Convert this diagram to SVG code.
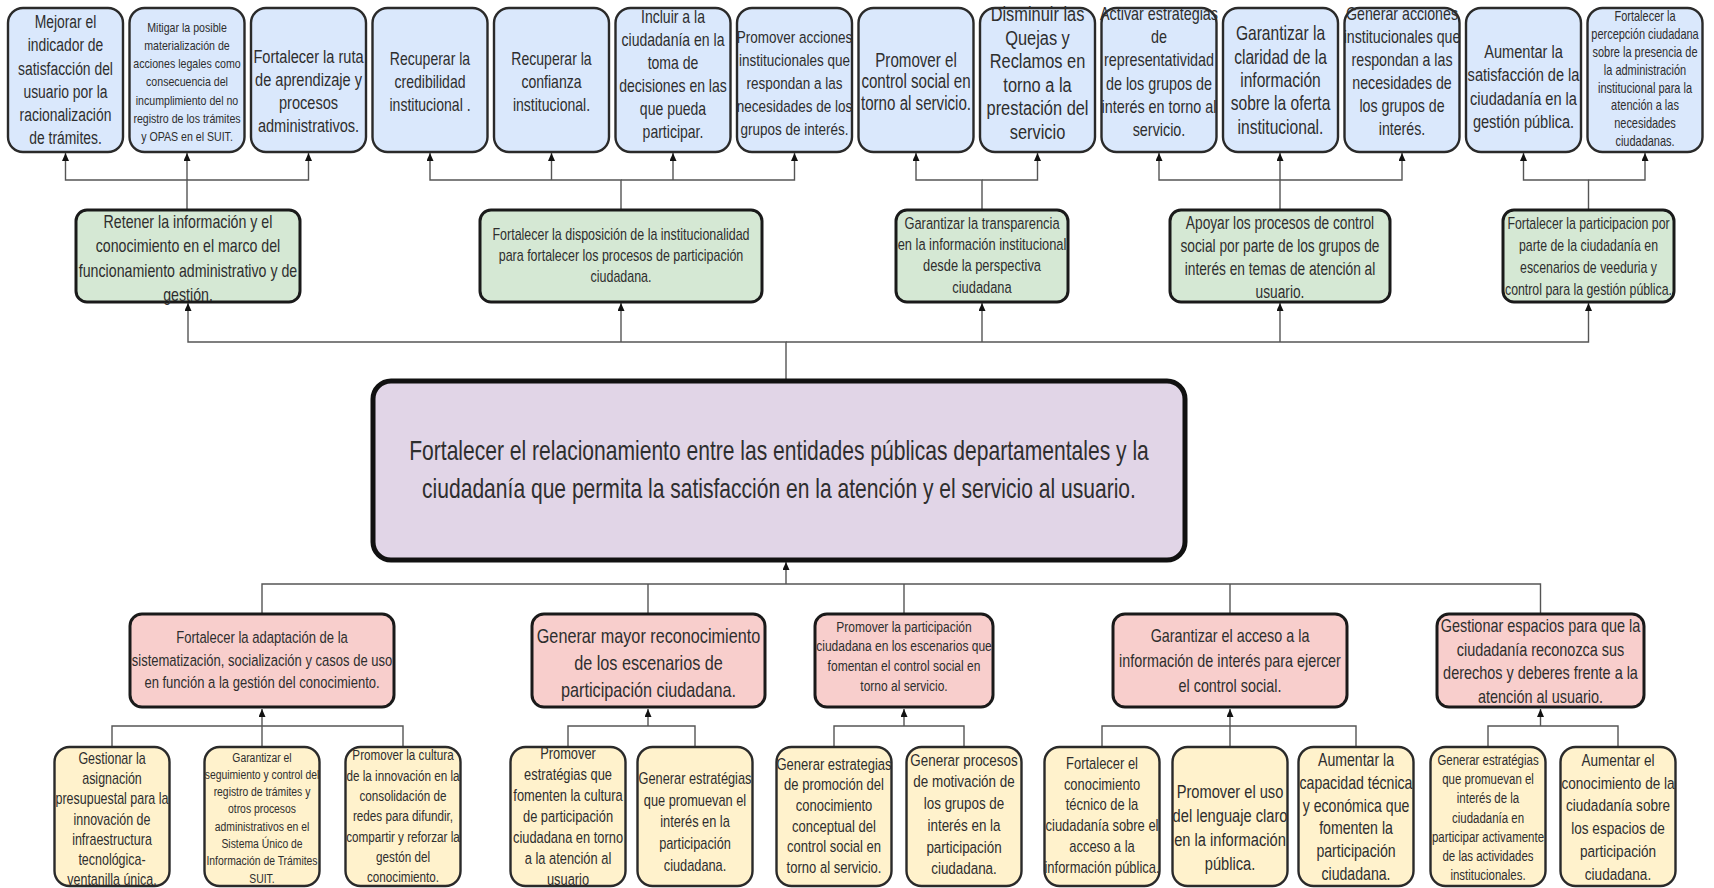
<svg xmlns="http://www.w3.org/2000/svg" width="1714" height="888" viewBox="0 0 1714 888">
<defs>
<style>
.bl{fill:#dae8fc;stroke:#2a2a2a;stroke-width:2.4}
.gr{fill:#d5e8d4;stroke:#1a1a1a;stroke-width:3}
.pu{fill:#e1d5e7;stroke:#111;stroke-width:5}
.rd{fill:#f8cecc;stroke:#1a1a1a;stroke-width:3}
.ye{fill:#fff2cc;stroke:#2a2a2a;stroke-width:2.4}
text{font-family:"Liberation Sans",Arial,sans-serif;fill:#2e2e2e;text-anchor:middle}
.cn path{fill:none;stroke:#555;stroke-width:1.4}
.ar{marker-end:url(#ah)}
</style>
<marker id="ah" viewBox="0 0 8 7" refX="8" refY="3.5" markerWidth="8" markerHeight="7" orient="auto" markerUnits="userSpaceOnUse"><path d="M0 0 L8 3.5 L0 7 z" fill="#111" stroke="none"/></marker>
</defs>
<rect width="1714" height="888" fill="#fff"/>

<g class="cn" id="connectors">
<path class="ar" d="M187 210 V180 H65.5 V153"/>
<path class="ar" d="M187 180 V153"/>
<path class="ar" d="M187 180 H308.5 V153"/>
<path class="ar" d="M621 210 V180 H430 V153"/>
<path class="ar" d="M551.5 180 V153"/>
<path class="ar" d="M621 180 H794.5 V153"/>
<path class="ar" d="M673 180 V153"/>
<path class="ar" d="M982 210 V180 H916 V153"/>
<path class="ar" d="M982 180 H1037.5 V153"/>
<path class="ar" d="M1280 210 V180 H1159 V153"/>
<path class="ar" d="M1280 180 V153"/>
<path class="ar" d="M1280 180 H1402 V153"/>
<path class="ar" d="M1588.5 210 V180 H1523.5 V153"/>
<path class="ar" d="M1588.5 180 H1645 V153"/>
<path class="ar" d="M786 381 V342 H188 V303"/>
<path class="ar" d="M621 342 V303"/>
<path class="ar" d="M786 342 H1588.5 V303"/>
<path class="ar" d="M982 342 V303"/>
<path class="ar" d="M1280 342 V303"/>
<path class="ar" d="M786 584 V562"/>
<path d="M786 584 H262 V614"/>
<path d="M648 584 V614"/>
<path d="M786 584 H1540.5 V614"/>
<path d="M904 584 V614"/>
<path d="M1230 584 V614"/>
<path class="ar" d="M262 747 V709"/>
<path d="M112 747 V726 H403 V747"/>
<path d="M568 747 V726 H695 V747"/>
<path class="ar" d="M648 726 V709"/>
<path d="M834 747 V726 H964 V747"/>
<path class="ar" d="M904 726 V709"/>
<path d="M1102 747 V726 H1356 V747"/>
<path class="ar" d="M1230 747 V709"/>
<path d="M1488 747 V726 H1618 V747"/>
<path class="ar" d="M1540.5 726 V709"/>
</g>

<g id="b1"><rect class="bl" x="8" y="8" width="115" height="144" rx="15"/>
<text font-size="17.8" transform="translate(65.5 0) scale(0.78 1)"><tspan x="0" y="28">Mejorar el</tspan><tspan x="0" y="51.3">indicador de</tspan><tspan x="0" y="74.6">satisfacción del</tspan><tspan x="0" y="97.9">usuario por la</tspan><tspan x="0" y="121.2">racionalización</tspan><tspan x="0" y="144.5">de trámites.</tspan></text></g>

<g id="b2"><rect class="bl" x="129.5" y="8" width="115" height="144" rx="15"/>
<text font-size="13.6" transform="translate(187 0) scale(0.78 1)"><tspan x="0" y="31.6">Mitigar la posible</tspan><tspan x="0" y="49.9">materialización de</tspan><tspan x="0" y="68.2">acciones legales como</tspan><tspan x="0" y="86.5">consecuencia del</tspan><tspan x="0" y="104.8">incumplimiento del no</tspan><tspan x="0" y="123.1">registro de los trámites</tspan><tspan x="0" y="141.4">y OPAS en el SUIT.</tspan></text></g>

<g id="b3"><rect class="bl" x="251" y="8" width="115" height="144" rx="15"/>
<text font-size="18.7" transform="translate(308.5 0) scale(0.78 1)"><tspan x="0" y="62.6">Fortalecer la ruta</tspan><tspan x="0" y="85.9">de aprendizaje y</tspan><tspan x="0" y="109.2">procesos</tspan><tspan x="0" y="132.5">administrativos.</tspan></text></g>

<g id="b4"><rect class="bl" x="372.5" y="8" width="115" height="144" rx="15"/>
<text font-size="18" transform="translate(430 0) scale(0.78 1)"><tspan x="0" y="64.7">Recuperar la</tspan><tspan x="0" y="88">credibilidad</tspan><tspan x="0" y="111.3">institucional .</tspan></text></g>

<g id="b5"><rect class="bl" x="494" y="8" width="115" height="144" rx="15"/>
<text font-size="18" transform="translate(551.5 0) scale(0.78 1)"><tspan x="0" y="64.7">Recuperar la</tspan><tspan x="0" y="88">confianza</tspan><tspan x="0" y="111.3">institucional.</tspan></text></g>

<g id="b6"><rect class="bl" x="615.5" y="8" width="115" height="144" rx="15"/>
<text font-size="18" transform="translate(673 0) scale(0.78 1)"><tspan x="0" y="22.8">Incluir a la</tspan><tspan x="0" y="45.8">ciudadanía en la</tspan><tspan x="0" y="68.8">toma de</tspan><tspan x="0" y="91.8">decisiones en las</tspan><tspan x="0" y="114.8">que pueda</tspan><tspan x="0" y="137.8">participar.</tspan></text></g>

<g id="b7"><rect class="bl" x="737" y="8" width="115" height="144" rx="15"/>
<text font-size="17.3" transform="translate(794.5 0) scale(0.78 1)"><tspan x="0" y="42.6">Promover acciones</tspan><tspan x="0" y="65.6">institucionales que</tspan><tspan x="0" y="88.6">respondan a las</tspan><tspan x="0" y="111.6">necesidades de los</tspan><tspan x="0" y="134.6">grupos de interés.</tspan></text></g>

<g id="b8"><rect class="bl" x="858.5" y="8" width="115" height="144" rx="15"/>
<text font-size="19.4" transform="translate(916 0) scale(0.78 1)"><tspan x="0" y="66.8">Promover el</tspan><tspan x="0" y="88.5">control social en</tspan><tspan x="0" y="110.2">torno al servicio.</tspan></text></g>

<g id="b9"><rect class="bl" x="980" y="8" width="115" height="144" rx="15"/>
<text font-size="21" transform="translate(1037.5 0) scale(0.78 1)"><tspan x="0" y="21.1">Disminuir las</tspan><tspan x="0" y="44.6">Quejas y</tspan><tspan x="0" y="68.1">Reclamos en</tspan><tspan x="0" y="91.6">torno a la</tspan><tspan x="0" y="115.1">prestación del</tspan><tspan x="0" y="138.6">servicio</tspan></text></g>

<g id="b10"><rect class="bl" x="1101.5" y="8" width="115" height="144" rx="15"/>
<text font-size="18.4" transform="translate(1159 0) scale(0.78 1)"><tspan x="0" y="19.9">Activar estrategias</tspan><tspan x="0" y="43.2">de</tspan><tspan x="0" y="66.5">representatividad</tspan><tspan x="0" y="89.8">de los grupos de</tspan><tspan x="0" y="113.1">interés en torno al</tspan><tspan x="0" y="136.4">servicio.</tspan></text></g>

<g id="b11"><rect class="bl" x="1223" y="8" width="115" height="144" rx="15"/>
<text font-size="20" transform="translate(1280.5 0) scale(0.78 1)"><tspan x="0" y="40.4">Garantizar la</tspan><tspan x="0" y="63.7">claridad de la</tspan><tspan x="0" y="87">información</tspan><tspan x="0" y="110.3">sobre la oferta</tspan><tspan x="0" y="133.6">institucional.</tspan></text></g>

<g id="b12"><rect class="bl" x="1344.5" y="8" width="115" height="144" rx="15"/>
<text font-size="18.2" transform="translate(1402 0) scale(0.78 1)"><tspan x="0" y="19.9">Generar acciones</tspan><tspan x="0" y="42.9">institucionales que</tspan><tspan x="0" y="65.9">respondan a las</tspan><tspan x="0" y="88.9">necesidades de</tspan><tspan x="0" y="111.9">los grupos de</tspan><tspan x="0" y="134.9">interés.</tspan></text></g>

<g id="b13"><rect class="bl" x="1466" y="8" width="115" height="144" rx="15"/>
<text font-size="18.7" transform="translate(1523.5 0) scale(0.78 1)"><tspan x="0" y="58.1">Aumentar la</tspan><tspan x="0" y="81.4">satisfacción de la</tspan><tspan x="0" y="104.7">ciudadanía en la</tspan><tspan x="0" y="128">gestión pública.</tspan></text></g>

<g id="b14"><rect class="bl" x="1587.5" y="8" width="115" height="144" rx="15"/>
<text font-size="14.1" transform="translate(1645 0) scale(0.78 1)"><tspan x="0" y="21.4">Fortalecer la</tspan><tspan x="0" y="39.2">percepción ciudadana</tspan><tspan x="0" y="57">sobre la presencia de</tspan><tspan x="0" y="74.8">la administración</tspan><tspan x="0" y="92.6">institucional  para la</tspan><tspan x="0" y="110.4">atención a las</tspan><tspan x="0" y="128.2">necesidades</tspan><tspan x="0" y="146">ciudadanas.</tspan></text></g>

<g id="g1"><rect class="gr" x="76" y="210" width="224" height="92" rx="11"/>
<text font-size="18.2" transform="translate(188 0) scale(0.78 1)"><tspan x="0" y="227.8">Retener la información y el</tspan><tspan x="0" y="252.2">conocimiento en el marco del</tspan><tspan x="0" y="276.6">funcionamiento administrativo y de</tspan><tspan x="0" y="301">gestión.</tspan></text></g>

<g id="g2"><rect class="gr" x="480" y="210" width="282" height="92" rx="11"/>
<text font-size="16" transform="translate(621 0) scale(0.78 1)"><tspan x="0" y="240.4">Fortalecer la disposición de la institucionalidad</tspan><tspan x="0" y="261.2">para fortalecer los procesos de participación</tspan><tspan x="0" y="282">ciudadana.</tspan></text></g>

<g id="g3"><rect class="gr" x="896" y="210" width="172" height="92" rx="11"/>
<text font-size="16.5" transform="translate(982 0) scale(0.78 1)"><tspan x="0" y="229">Garantizar la transparencia</tspan><tspan x="0" y="250.2">en la información institucional</tspan><tspan x="0" y="271.4">desde la perspectiva</tspan><tspan x="0" y="292.6">ciudadana</tspan></text></g>

<g id="g4"><rect class="gr" x="1170" y="210" width="220" height="92" rx="11"/>
<text font-size="17.6" transform="translate(1280 0) scale(0.78 1)"><tspan x="0" y="229.5">Apoyar los procesos de control</tspan><tspan x="0" y="252.3">social por parte de los grupos de</tspan><tspan x="0" y="275.1">interés en temas de atención al</tspan><tspan x="0" y="297.9">usuario.</tspan></text></g>

<g id="g5"><rect class="gr" x="1503" y="210" width="171" height="92" rx="11"/>
<text font-size="15.8" transform="translate(1588.5 0) scale(0.78 1)"><tspan x="0" y="228.9">Fortalecer la participacion por</tspan><tspan x="0" y="251.1">parte de la ciudadanía en</tspan><tspan x="0" y="273.3">escenarios de veeduria y</tspan><tspan x="0" y="295.5">control para la gestión pública.</tspan></text></g>

<g id="main"><rect class="pu" x="373" y="381" width="812" height="179" rx="18"/>
<text font-size="27" transform="translate(779 0) scale(0.78 1)"><tspan x="0" y="460.5">Fortalecer el relacionamiento entre las entidades públicas departamentales y la</tspan><tspan x="0" y="498.5">ciudadanía que permita la satisfacción en la atención y el servicio al usuario.</tspan></text></g>

<g id="r1"><rect class="rd" x="130" y="614" width="264" height="93" rx="12"/>
<text font-size="16.7" transform="translate(262 0) scale(0.78 1)"><tspan x="0" y="643.4">Fortalecer la adaptación de la</tspan><tspan x="0" y="665.9">sistematización, socialización y casos de uso</tspan><tspan x="0" y="688.4">en función a la gestión del conocimiento.</tspan></text></g>

<g id="r2"><rect class="rd" x="532" y="614" width="233" height="93" rx="12"/>
<text font-size="20.8" transform="translate(648.5 0) scale(0.78 1)"><tspan x="0" y="643.3">Generar mayor reconocimiento</tspan><tspan x="0" y="670.3">de los escenarios de</tspan><tspan x="0" y="697.3">participación ciudadana.</tspan></text></g>

<g id="r3"><rect class="rd" x="815" y="614" width="178" height="93" rx="12"/>
<text font-size="15.4" transform="translate(904 0) scale(0.78 1)"><tspan x="0" y="631.7">Promover la participación</tspan><tspan x="0" y="651.5">ciudadana en los escenarios que</tspan><tspan x="0" y="671.3">fomentan el control social en</tspan><tspan x="0" y="691.1">torno al servicio.</tspan></text></g>

<g id="r4"><rect class="rd" x="1113" y="614" width="234" height="93" rx="12"/>
<text font-size="18.4" transform="translate(1230 0) scale(0.78 1)"><tspan x="0" y="642.4">Garantizar el acceso a la</tspan><tspan x="0" y="667.4">información de interés para ejercer</tspan><tspan x="0" y="692.4">el control social.</tspan></text></g>

<g id="r5"><rect class="rd" x="1437" y="614" width="207" height="93" rx="12"/>
<text font-size="18.5" transform="translate(1540.5 0) scale(0.78 1)"><tspan x="0" y="632.3">Gestionar espacios para que la</tspan><tspan x="0" y="655.8">ciudadanía  reconozca sus</tspan><tspan x="0" y="679.3">derechos y deberes frente a la</tspan><tspan x="0" y="702.8">atención al usuario.</tspan></text></g>

<g id="y1"><rect class="ye" x="54.5" y="747" width="115" height="139" rx="15"/>
<text font-size="16" transform="translate(112 0) scale(0.78 1)"><tspan x="0" y="763.7">Gestionar la</tspan><tspan x="0" y="784">asignación</tspan><tspan x="0" y="804.3">presupuestal para la</tspan><tspan x="0" y="824.6">innovación de</tspan><tspan x="0" y="844.9">infraestructura</tspan><tspan x="0" y="865.2">tecnológica-</tspan><tspan x="0" y="885.5">ventanilla única.</tspan></text></g>

<g id="y2"><rect class="ye" x="204.5" y="747" width="115" height="139" rx="15"/>
<text font-size="13.3" transform="translate(262 0) scale(0.78 1)"><tspan x="0" y="761.6">Garantizar el</tspan><tspan x="0" y="778.9">seguimiento y control del</tspan><tspan x="0" y="796.2">registro de trámites y</tspan><tspan x="0" y="813.5">otros procesos</tspan><tspan x="0" y="830.8">administrativos en el</tspan><tspan x="0" y="848.1">Sistema Único de</tspan><tspan x="0" y="865.4">Información de Trámites</tspan><tspan x="0" y="882.7">SUIT.</tspan></text></g>

<g id="y3"><rect class="ye" x="345.5" y="747" width="115" height="139" rx="15"/>
<text font-size="15" transform="translate(403 0) scale(0.78 1)"><tspan x="0" y="760.4">Promover la cultura</tspan><tspan x="0" y="780.7">de la innovación en la</tspan><tspan x="0" y="801">consolidación de</tspan><tspan x="0" y="821.3">redes para difundir,</tspan><tspan x="0" y="841.6">compartir y reforzar la</tspan><tspan x="0" y="861.9">gestón del</tspan><tspan x="0" y="882.2">conocimiento.</tspan></text></g>

<g id="y4"><rect class="ye" x="510.5" y="747" width="115" height="139" rx="15"/>
<text font-size="16.5" transform="translate(568 0) scale(0.78 1)"><tspan x="0" y="759.5">Promover</tspan><tspan x="0" y="780.5">estratégias que</tspan><tspan x="0" y="801.5">fomenten la cultura</tspan><tspan x="0" y="822.5">de participación</tspan><tspan x="0" y="843.5">ciudadana en torno</tspan><tspan x="0" y="864.5">a la atención al</tspan><tspan x="0" y="885.5">usuario</tspan></text></g>

<g id="y5"><rect class="ye" x="637.5" y="747" width="115" height="139" rx="15"/>
<text font-size="16.4" transform="translate(695 0) scale(0.78 1)"><tspan x="0" y="784">Generar estratégias</tspan><tspan x="0" y="805.7">que promuevan el</tspan><tspan x="0" y="827.4">interés en la</tspan><tspan x="0" y="849.1">participación</tspan><tspan x="0" y="870.8">ciudadana.</tspan></text></g>

<g id="y6"><rect class="ye" x="776.5" y="747" width="115" height="139" rx="15"/>
<text font-size="16.7" transform="translate(834 0) scale(0.78 1)"><tspan x="0" y="769.6">Generar estrategias</tspan><tspan x="0" y="790.3">de promoción del</tspan><tspan x="0" y="811">conocimiento</tspan><tspan x="0" y="831.7">conceptual del</tspan><tspan x="0" y="852.4">control social en</tspan><tspan x="0" y="873.1">torno al servicio.</tspan></text></g>

<g id="y7"><rect class="ye" x="906.5" y="747" width="115" height="139" rx="15"/>
<text font-size="17.2" transform="translate(964 0) scale(0.78 1)"><tspan x="0" y="765.8">Generar procesos</tspan><tspan x="0" y="787.5">de motivación de</tspan><tspan x="0" y="809.2">los grupos de</tspan><tspan x="0" y="830.9">interés en la</tspan><tspan x="0" y="852.6">participación</tspan><tspan x="0" y="874.3">ciudadana.</tspan></text></g>

<g id="y8"><rect class="ye" x="1044.5" y="747" width="115" height="139" rx="15"/>
<text font-size="16.6" transform="translate(1102 0) scale(0.78 1)"><tspan x="0" y="769.1">Fortalecer el</tspan><tspan x="0" y="789.8">conocimiento</tspan><tspan x="0" y="810.5">técnico de la</tspan><tspan x="0" y="831.2">ciudadanía sobre el</tspan><tspan x="0" y="851.9">acceso a la</tspan><tspan x="0" y="872.6">información pública.</tspan></text></g>

<g id="y9"><rect class="ye" x="1172.5" y="747" width="115" height="139" rx="15"/>
<text font-size="18.8" transform="translate(1230 0) scale(0.78 1)"><tspan x="0" y="798.3">Promover el uso</tspan><tspan x="0" y="822.2">del lenguaje claro</tspan><tspan x="0" y="846.1">en la información</tspan><tspan x="0" y="870">pública.</tspan></text></g>

<g id="y10"><rect class="ye" x="1298.5" y="747" width="115" height="139" rx="15"/>
<text font-size="18.1" transform="translate(1356 0) scale(0.78 1)"><tspan x="0" y="766.3">Aumentar la</tspan><tspan x="0" y="789">capacidad técnica</tspan><tspan x="0" y="811.7">y económica que</tspan><tspan x="0" y="834.4">fomenten la</tspan><tspan x="0" y="857.1">participación</tspan><tspan x="0" y="879.8">ciudadana.</tspan></text></g>

<g id="y11"><rect class="ye" x="1430.5" y="747" width="115" height="139" rx="15"/>
<text font-size="14.7" transform="translate(1488 0) scale(0.78 1)"><tspan x="0" y="765">Generar estratégias</tspan><tspan x="0" y="784.2">que promuevan el</tspan><tspan x="0" y="803.4">interés de la</tspan><tspan x="0" y="822.6">ciudadanía en</tspan><tspan x="0" y="841.8">participar activamente</tspan><tspan x="0" y="861">de las actividades</tspan><tspan x="0" y="880.2">institucionales.</tspan></text></g>

<g id="y12"><rect class="ye" x="1560.5" y="747" width="115" height="139" rx="15"/>
<text font-size="17.4" transform="translate(1618 0) scale(0.78 1)"><tspan x="0" y="766.1">Aumentar el</tspan><tspan x="0" y="788.8">conocimiento de la</tspan><tspan x="0" y="811.5">ciudadanía sobre</tspan><tspan x="0" y="834.2">los espacios de</tspan><tspan x="0" y="856.9">participación</tspan><tspan x="0" y="879.6">ciudadana.</tspan></text></g>
</svg>
